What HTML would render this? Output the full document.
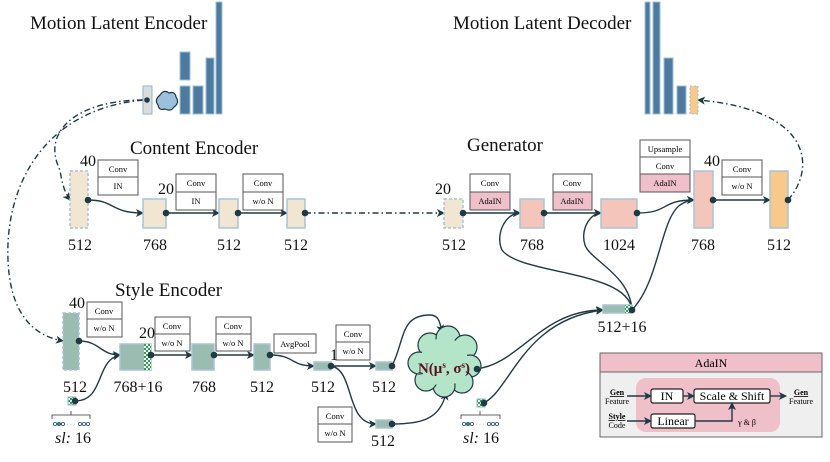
<!DOCTYPE html>
<html><head><meta charset="utf-8"><style>
html,body{margin:0;padding:0;background:#fff;}
svg{display:block;font-family:"Liberation Serif",serif;}
</style></head><body>
<svg width="830" height="462" viewBox="0 0 830 462" xmlns="http://www.w3.org/2000/svg">
<defs>
<marker id="ah" markerWidth="8" markerHeight="8" refX="7" refY="4" orient="auto" markerUnits="userSpaceOnUse"><path d="M0,0 L8,4 L0,8 L2,4 z" fill="#1f3a44"/></marker>
<pattern id="chk" width="4" height="4" patternUnits="userSpaceOnUse"><rect width="4" height="4" fill="#fff"/><rect width="2" height="2" fill="#2aa44a"/><rect x="2" y="2" width="2" height="2" fill="#2aa44a"/></pattern>
</defs>
<g fill="none" stroke="#1f3a44" stroke-width="1.4">
<path d="M143,100 C80,100 40,130 60,170 C62,185 66,195 70,200" stroke-dasharray="6,3,1.5,3" marker-end="url(#ah)"/>
<path d="M143,100 C40,110 5,190 8,260 C10,310 30,335 63,341" stroke-dasharray="6,3,1.5,3" marker-end="url(#ah)"/>
<path d="M788,200 C815,170 815,110 698,100" stroke-dasharray="6,3,1.5,3" marker-end="url(#ah)"/>
<path d="M305,213 L444,213" stroke-dasharray="6,3,1.5,3" marker-end="url(#ah)"/>
<path d="M88,200 C115,200 110,213 143,213" marker-end="url(#ah)"/>
<path d="M166,213 L219,213" marker-end="url(#ah)"/>
<path d="M238,213 L287,213" marker-end="url(#ah)"/>
<path d="M463,213 L520,213" marker-end="url(#ah)"/>
<path d="M544,213 L601,213" marker-end="url(#ah)"/>
<path d="M637,213 C670,213 660,200 694,200" marker-end="url(#ah)"/>
<path d="M713,200 L770,200" marker-end="url(#ah)"/>
<path d="M632,310 C628,270 520,275 502,250 C495,235 505,213 520,213" marker-end="url(#ah)"/>
<path d="M632,310 C630,275 590,260 585,245 C580,230 590,213 601,213" marker-end="url(#ah)"/>
<path d="M632,310 C660,280 660,220 680,205 C686,201 690,200 694,200" marker-end="url(#ah)"/>
<path d="M79,341 C100,341 100,355 120,355" marker-end="url(#ah)"/>
<path d="M75,401 C105,401 95,360 120,355" marker-end="url(#ah)"/>
<path d="M151,355 L192,355" marker-end="url(#ah)"/>
<path d="M214,355 L254,355" marker-end="url(#ah)"/>
<path d="M270,355 C295,355 290,366 314,366" marker-end="url(#ah)"/>
<path d="M331,366 L376,366" marker-end="url(#ah)"/>
<path d="M331,366 C355,370 345,424 376,424" marker-end="url(#ah)"/>
<path d="M392,366 C405,340 400,315 430,315 C440,315 440,325 442,332" marker-end="url(#ah)"/>
<path d="M392,424 C420,424 440,420 446,393" marker-end="url(#ah)"/>
<path d="M475,369 C520,365 540,310 603,310" marker-end="url(#ah)"/>
<path d="M481,404 C510,395 520,320 603,310" marker-end="url(#ah)"/>
</g>
<g font-size="19" fill="#111">
<text x="30" y="29">Motion Latent Encoder</text>
<text x="453" y="29">Motion Latent Decoder</text>
<text x="130" y="154">Content Encoder</text>
<text x="467" y="151">Generator</text>
<text x="115" y="296">Style Encoder</text>
</g>
<rect x="143" y="86" width="9" height="28" fill="#dcdcdc" stroke="#8fb3cc"/>
<path d="M160,95 q4,-6 9,-2 q6,-2 7,4 q4,6 -2,10 q-3,5 -9,2 q-6,2 -7,-4 q-4,-5 2,-10z" fill="#9cc0dc" stroke="#1f3a44" stroke-width="1.2"/>
<g fill="#4e7aa0" stroke="#9cc0dc">
<rect x="180" y="52" width="10" height="28"/><rect x="180" y="86" width="10" height="28"/>
<rect x="193" y="86" width="10" height="28"/><rect x="206" y="58" width="8" height="56"/>
<rect x="216" y="2" width="6" height="112"/>
<rect x="645" y="2" width="5" height="112"/><rect x="653" y="2" width="7" height="112"/>
<rect x="664" y="58" width="9" height="56"/><rect x="677" y="86" width="9" height="28"/>
</g>
<rect x="690" y="86" width="8" height="28" fill="#f7c98a" stroke="#9cc0dc" stroke-dasharray="2,2"/>
<g stroke="#a9c3d6" stroke-width="1.5">
<rect x="70" y="171" width="18" height="57" fill="#f1e6d2" stroke-dasharray="3,2"/>
<rect x="143" y="199" width="23" height="29" fill="#f1e6d2"/>
<rect x="219" y="199" width="19" height="29" fill="#f1e6d2"/>
<rect x="287" y="199" width="18" height="29" fill="#f1e6d2"/>
<rect x="444" y="199" width="19" height="29" fill="#f1e6d2" stroke-dasharray="3,2"/>
<rect x="520" y="199" width="24" height="29" fill="#f4c5bb"/>
<rect x="601" y="199" width="36" height="29" fill="#f4c5bb"/>
<rect x="694" y="171" width="19" height="57" fill="#f4c5bb"/>
<rect x="770" y="171" width="18" height="57" fill="#f7c98a"/>
<rect x="63" y="313" width="16" height="57" fill="#9bbcb0" stroke-dasharray="3,2"/>
<rect x="120" y="344" width="31" height="26" fill="#9bbcb0"/>
<rect x="192" y="344" width="22" height="26" fill="#9bbcb0"/>
<rect x="254" y="344" width="16" height="26" fill="#9bbcb0"/>
<rect x="314" y="362" width="17" height="8" fill="#9bbcb0"/>
<rect x="376" y="362" width="16" height="8" fill="#9bbcb0"/>
<rect x="376" y="420" width="16" height="8" fill="#9bbcb0"/>
<rect x="603" y="305" width="29" height="8" fill="#9bbcb0"/>
</g>
<rect x="144" y="344" width="7" height="26" fill="url(#chk)"/>
<rect x="625" y="305" width="6" height="8" fill="url(#chk)"/>
<rect x="68" y="397" width="8" height="8" fill="url(#chk)" stroke="#8fb3cc"/>
<rect x="477" y="399" width="8" height="8" fill="url(#chk)" stroke="#8fb3cc"/>
<!-- cloud -->
<g fill="#b5e5c8" stroke="#1f3a44" stroke-width="1.2">
<circle cx="430" cy="345" r="12"/><circle cx="448" cy="338" r="12"/><circle cx="465" cy="347" r="12"/>
<circle cx="470" cy="366" r="11"/><circle cx="462" cy="382" r="11"/><circle cx="444" cy="386" r="11"/>
<circle cx="426" cy="380" r="11"/><circle cx="419" cy="363" r="11"/>
</g>
<g fill="#b5e5c8"><circle cx="444" cy="362" r="24"/></g>
<g fill="#1f3a44">
<circle cx="147" cy="100" r="2.8"/>
<circle cx="88" cy="200" r="3.3"/><circle cx="166" cy="213" r="3.3"/><circle cx="238" cy="213" r="3.3"/><circle cx="305" cy="213" r="3.3"/>
<circle cx="463" cy="213" r="3.3"/><circle cx="544" cy="213" r="3.3"/><circle cx="637" cy="213" r="3.3"/><circle cx="713" cy="200" r="3.3"/><circle cx="788" cy="200" r="3.3"/>
<circle cx="79" cy="341" r="3.3"/><circle cx="151" cy="355" r="3.3"/><circle cx="214" cy="355" r="3.3"/><circle cx="270" cy="355" r="3.3"/>
<circle cx="331" cy="366" r="3.3"/><circle cx="392" cy="366" r="3.3"/><circle cx="392" cy="424" r="3.3"/><circle cx="477" cy="369" r="3.3"/>
<circle cx="632" cy="310" r="3.3"/><circle cx="75" cy="401" r="3.3"/><circle cx="484" cy="403" r="3.3"/>
</g>
<g font-size="8.5" text-anchor="middle" stroke-width="1">
<g><rect x="98" y="160" width="40" height="35" fill="#fff" stroke="#555"/><line x1="98" y1="177" x2="138" y2="177" stroke="#555"/><text x="118" y="172">Conv</text><text x="118" y="189">IN</text></g>
<g><rect x="176" y="174" width="40" height="36" fill="#fff" stroke="#555"/><line x1="176" y1="192" x2="216" y2="192" stroke="#555"/><text x="196" y="186">Conv</text><text x="196" y="204">IN</text></g>
<g><rect x="243" y="174" width="40" height="36" fill="#fff" stroke="#555"/><line x1="243" y1="192" x2="283" y2="192" stroke="#555"/><text x="263" y="186">Conv</text><text x="263" y="204">w/o N</text></g>
<g><rect x="470" y="174" width="40" height="18" fill="#fff" stroke="#555"/><rect x="470" y="192" width="40" height="18" fill="#efbfca" stroke="#555"/><text x="490" y="186">Conv</text><text x="490" y="204">AdaIN</text></g>
<g><rect x="553" y="174" width="39" height="18" fill="#fff" stroke="#555"/><rect x="553" y="192" width="39" height="18" fill="#efbfca" stroke="#555"/><text x="572" y="186">Conv</text><text x="572" y="204">AdaIN</text></g>
<g><rect x="640" y="140" width="50" height="35" fill="#fff" stroke="#555"/><line x1="640" y1="157" x2="690" y2="157" stroke="#555"/><rect x="640" y="174" width="50" height="18" fill="#efbfca" stroke="#555"/><text x="665" y="152">Upsample</text><text x="665" y="169">Conv</text><text x="665" y="186">AdaIN</text></g>
<g><rect x="722" y="160" width="40" height="35" fill="#fff" stroke="#555"/><line x1="722" y1="177" x2="762" y2="177" stroke="#555"/><text x="742" y="172">Conv</text><text x="742" y="189">w/o N</text></g>
<g><rect x="87" y="302" width="35" height="35" fill="#fff" stroke="#555"/><line x1="87" y1="319" x2="122" y2="319" stroke="#555"/><text x="104" y="314">Conv</text><text x="104" y="331">w/o N</text></g>
<g><rect x="155" y="317" width="35" height="34" fill="#fff" stroke="#555"/><line x1="155" y1="334" x2="190" y2="334" stroke="#555"/><text x="172" y="329">Conv</text><text x="172" y="346">w/o N</text></g>
<g><rect x="216" y="317" width="35" height="34" fill="#fff" stroke="#555"/><line x1="216" y1="334" x2="251" y2="334" stroke="#555"/><text x="233" y="329">Conv</text><text x="233" y="346">w/o N</text></g>
<g><rect x="274" y="334" width="42" height="19" fill="#fff" stroke="#555"/><text x="295" y="347">AvgPool</text></g>
<g><rect x="336" y="325" width="34" height="35" fill="#fff" stroke="#555"/><line x1="336" y1="342" x2="370" y2="342" stroke="#555"/><text x="353" y="337">Conv</text><text x="353" y="354">w/o N</text></g>
<g><rect x="318" y="407" width="34" height="35" fill="#fff" stroke="#555"/><line x1="318" y1="424" x2="352" y2="424" stroke="#555"/><text x="335" y="419">Conv</text><text x="335" y="436">w/o N</text></g>
</g>
<text x="444" y="373" font-size="15" font-weight="bold" fill="#5a1020" text-anchor="middle">N(μ<tspan font-size="9" dy="-5">s</tspan><tspan dy="5">, σ</tspan><tspan font-size="9" dy="-5">s</tspan><tspan dy="5">)</tspan></text>
<g font-size="16" fill="#111" text-anchor="middle">
<text x="88" y="166">40</text><text x="166" y="194">20</text><text x="443" y="194">20</text><text x="712" y="166">40</text>
<text x="77" y="308">40</text><text x="147" y="338">20</text><text x="334" y="360">1</text>
<text x="80" y="250">512</text><text x="155" y="250">768</text><text x="229" y="250">512</text><text x="296" y="250">512</text>
<text x="454" y="250">512</text><text x="532" y="250">768</text><text x="619" y="250">1024</text><text x="703" y="250">768</text><text x="779" y="250">512</text>
<text x="75" y="392">512</text><text x="138" y="392">768+16</text><text x="204" y="392">768</text><text x="262" y="392">512</text><text x="323" y="392">512</text><text x="384" y="392">512</text><text x="383" y="446">512</text>
<text x="622" y="332">512+16</text>
<text x="73" y="443"><tspan font-style="italic">sl:</tspan> 16</text>
<text x="481" y="443"><tspan font-style="italic">sl:</tspan> 16</text>
</g>
<g stroke="#333" fill="none" stroke-width="0.8">
<path d="M52,419 v-4 h38 v4 M71,415 v-4"/>
<path d="M461,419 v-4 h39 v4 M480,415 v-4"/>
</g>
<g stroke="#2a4a8a" fill="#fff" stroke-width="0.8">
<circle cx="55" cy="424" r="1.6"/><circle cx="59" cy="424" r="1.6" fill="#2aa44a"/><circle cx="63" cy="424" r="1.6"/><circle cx="80" cy="424" r="1.6"/><circle cx="84" cy="424" r="1.6"/><circle cx="88" cy="424" r="1.6"/>
<circle cx="464" cy="424" r="1.6"/><circle cx="468" cy="424" r="1.6" fill="#2aa44a"/><circle cx="472" cy="424" r="1.6"/><circle cx="489" cy="424" r="1.6"/><circle cx="493" cy="424" r="1.6"/><circle cx="497" cy="424" r="1.6"/>
</g>
<text x="71" y="426" font-size="6" text-anchor="middle" fill="#2a4a8a">· · ·</text>
<text x="480" y="426" font-size="6" text-anchor="middle" fill="#2a4a8a">· · ·</text>
<rect x="600" y="353" width="222" height="84" fill="#efefef" stroke="#666"/>
<rect x="600" y="353" width="222" height="19" fill="#efbfca" stroke="#666"/>
<text x="711" y="367" font-size="12" text-anchor="middle">AdaIN</text>
<rect x="636" y="378" width="144" height="54" rx="10" fill="#efbfca"/>
<g fill="#fff" stroke="#222" stroke-width="1.2">
<rect x="651" y="389" width="32" height="14" rx="2"/>
<rect x="694" y="389" width="76" height="14" rx="2"/>
<rect x="651" y="414" width="44" height="14" rx="2"/>
</g>
<g font-size="12" text-anchor="middle"><text x="667" y="400">IN</text><text x="732" y="400">Scale &amp; Shift</text><text x="673" y="425">Linear</text></g>
<g stroke="#1f3a44" stroke-width="1.4" fill="none">
<path d="M627,396 L651,396" marker-end="url(#ah)"/>
<path d="M683,396 L694,396" marker-end="url(#ah)"/>
<path d="M770,396 L786,396" marker-end="url(#ah)"/>
<path d="M627,421 L651,421" marker-end="url(#ah)"/>
<path d="M695,421 L732,421 L732,403" marker-end="url(#ah)"/>
</g>
<g font-size="8" text-anchor="middle">
<text x="617" y="395" font-weight="bold" text-decoration="underline">Gen</text><text x="617" y="404">Feature</text>
<text x="617" y="419" font-weight="bold" text-decoration="underline">Style</text><text x="617" y="428">Code</text>
<text x="801" y="395" font-weight="bold" text-decoration="underline">Gen</text><text x="801" y="404">Feature</text>
<text x="747" y="425">γ &amp; β</text>
</g>
</svg>
</body></html>
